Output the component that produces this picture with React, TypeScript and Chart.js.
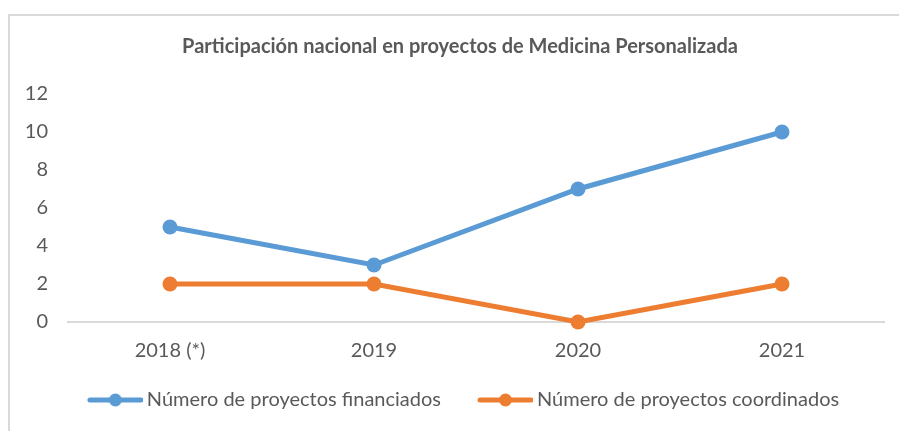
import React, { useEffect, useRef } from "react";
import { Chart, registerables } from "chart.js";

Chart.register(...registerables);

const categories = ["2018 (*)", "2019", "2020", "2021"];
const financiados = [5, 3, 7, 10];
const coordinados = [2, 2, 0, 2];
const seriesNames = ["Número de proyectos financiados", "Número de proyectos coordinados"];
const titleText = "Participación nacional en proyectos de Medicina Personalizada";

const BLUE = "#5B9BD5";
const ORANGE = "#ED7D31";
const TEXT = "#595959";
const FONT = "Lato, 'Liberation Sans', sans-serif";

function legendIcon(color: string): HTMLCanvasElement {
  const c = document.createElement("canvas");
  c.width = 88;
  c.height = 16;
  const ctx = c.getContext("2d")!;
  ctx.strokeStyle = color;
  ctx.lineWidth = 5;
  ctx.lineCap = "round";
  ctx.beginPath();
  ctx.moveTo(35, 8);
  ctx.lineTo(86, 8);
  ctx.stroke();
  ctx.fillStyle = color;
  ctx.beginPath();
  ctx.arc(60.5, 8, 6.5, 0, Math.PI * 2);
  ctx.fill();
  return c;
}

const framePlugin = {
  id: "frameBorder",
  afterLayout(chart: any) {
    if (chart.titleBlock) chart.titleBlock.left += 20;
  },
  beforeDraw(chart: any) {
    const ctx = chart.ctx;
    ctx.save();
    ctx.strokeStyle = "#d9d9d9";
    ctx.lineWidth = 2;
    ctx.beginPath();
    ctx.moveTo(9, chart.height);
    ctx.lineTo(9, 15);
    ctx.lineTo(chart.width, 15);
    ctx.stroke();
    ctx.restore();
  },
};

export default function App() {
  const ref = useRef<HTMLCanvasElement>(null);
  useEffect(() => {
    const icons = [legendIcon(BLUE), legendIcon(ORANGE)];
    const chart = new Chart(ref.current!, {
      type: "line",
      data: {
        labels: categories,
        datasets: [
          {
            label: seriesNames[0],
            data: financiados,
            borderColor: BLUE,
            backgroundColor: BLUE,
            borderWidth: 5,
            pointRadius: 7.5,
            pointBackgroundColor: BLUE,
            pointBorderWidth: 0,
            tension: 0,
            clip: false as any,
          },
          {
            label: seriesNames[1],
            data: coordinados,
            borderColor: ORANGE,
            backgroundColor: ORANGE,
            borderWidth: 5,
            pointRadius: 7.5,
            pointBackgroundColor: ORANGE,
            pointBorderWidth: 0,
            tension: 0,
            clip: false as any,
          },
        ],
      },
      options: {
        animation: false,
        responsive: false,
        maintainAspectRatio: false,
        layout: { padding: { left: 16, right: 15, top: 0, bottom: 11 } },
        plugins: {
          tooltip: { enabled: false },
          title: {
            display: true,
            text: titleText,
            color: TEXT,
            font: { family: FONT, size: 20, weight: "bold" },
            padding: { top: 35, bottom: 35 },
          },
          legend: {
            position: "bottom",
            labels: {
              color: TEXT,
              font: { family: FONT, size: 20 },
              usePointStyle: true,
              pointStyleWidth: 76,
              padding: 10,
              generateLabels: (ch: any) =>
                ch.data.datasets.map((ds: any, i: number) => ({
                  text: ds.label,
                  pointStyle: icons[i],
                  fillStyle: ds.borderColor,
                  strokeStyle: ds.borderColor,
                  lineWidth: 0,
                  hidden: false,
                  datasetIndex: i,
                  fontColor: TEXT,
                })),
            },
          },
        },
        scales: {
          x: {
            offset: true,
            grid: { display: false, drawTicks: false },
            border: { display: true, color: "#d9d9d9", width: 2 },
            ticks: { color: TEXT, font: { family: FONT, size: 20 }, padding: 17 },
            afterFit: (s: any) => {
              s.height = 58;
            },
          },
          y: {
            min: 0,
            max: 12,
            grid: { display: false, drawTicks: false },
            border: { display: false },
            ticks: { stepSize: 2, color: TEXT, font: { family: FONT, size: 20 }, padding: 20 },
            afterFit: (s: any) => {
              s.width = 52;
            },
          },
        },
      },
      plugins: [framePlugin],
    });
    return () => chart.destroy();
  }, []);
  return (
    <div style={{ position: "absolute", left: 0, top: 0, width: 899, height: 431 }}>
      <canvas ref={ref} width={899} height={431} style={{ width: 899, height: 431 }} />
    </div>
  );
}
